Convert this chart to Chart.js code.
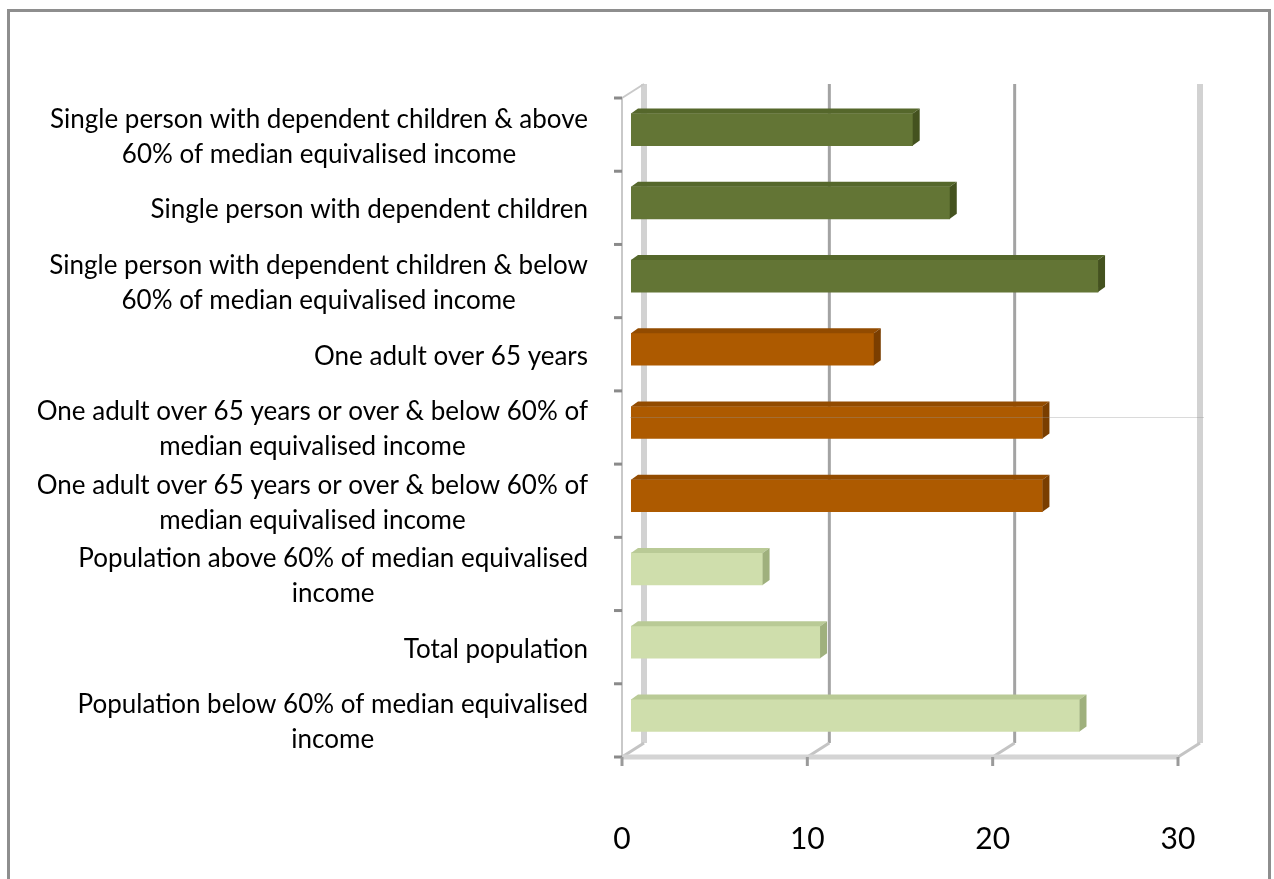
<!DOCTYPE html>
<html>
<head>
<meta charset="utf-8">
<script src="https://cdn.jsdelivr.net/npm/chart.js"></script>
<style>
  html, body { margin: 0; padding: 0; background: #fff; }
  #frame { position: absolute; left: 7px; top: 9px; width: 1258px; height: 900px; border: 3px solid #8e8e8e; }
  #myChart { position: absolute; left: 0; top: 0; }
</style>
</head>
<body>
<div id="frame"></div>
<canvas id="myChart" width="1274" height="879"></canvas>
<script>
// categories, top to bottom
const labels = [
    ['Single person with dependent children & above', '60% of median equivalised income'],
    ['Single person with dependent children'],
    ['Single person with dependent children & below', '60% of median equivalised income'],
    ['One adult over 65 years'],
    ['One adult over 65 years or over & below 60% of', 'median equivalised income'],
    ['One adult over 65 years or over & below 60% of', 'median equivalised income'],
    ['Population above 60% of median equivalised', 'income'],
    ['Total population'],
    ['Population below 60% of median equivalised', 'income']
];
const values = [15.2, 17.2, 25.2, 13.1, 22.2, 22.2, 7.1, 10.2, 24.2];
const groups = ['single', 'single', 'single', 'older', 'older', 'older', 'pop', 'pop', 'pop'];
const xTicks = [0, 10, 20, 30];

const faceColor = { single: '#637535', older: '#ad5a00', pop: '#cfdeac' };
const sideColor = { single: '#44521f', older: '#7a3e00', pop: '#9fb07d' };
const topColor = { single: '#55672b', older: '#924b00', pop: '#b9ca96' };

const DX = 22, DY = -14;        // depth of the walls
const BX = 9, BY = -5;          // bars sit halfway back
const SD = 7, SDY = 5;          // bar side face
const labelFont = '26px Lato';

function line(ctx, x1, y1, x2, y2, color, w) {
    ctx.beginPath();
    ctx.moveTo(x1, y1);
    ctx.lineTo(x2, y2);
    ctx.strokeStyle = color;
    ctx.lineWidth = w;
    ctx.stroke();
}

const walls = {
    id: 'walls',
    beforeDatasetsDraw(chart) {
        const { ctx, chartArea: a, scales: { x } } = chart;
        ctx.save();
        ctx.lineCap = 'butt';
        // back wall grid lines
        xTicks.forEach(v => {
            const px = x.getPixelForValue(v) + DX;
            const edge = v === 0 || v === 30;
            line(ctx, px, a.top + DY, px, a.bottom + DY, edge ? '#d2d2d2' : '#a3a3a3', edge ? 6 : 3);
        });
        // floor depth lines
        xTicks.forEach(v => {
            const px = x.getPixelForValue(v);
            line(ctx, px, a.bottom, px + DX, a.bottom + DY, '#c4c4c4', 3);
        });
        // floor front edge
        line(ctx, a.left, a.bottom, a.right, a.bottom, '#d4d4d4', 5);
        // left wall front edge and top
        line(ctx, a.left, a.top, a.left, a.bottom, '#c9c9c9', 2);
        line(ctx, a.left, a.top, a.left + DX, a.top + DY, '#c9c9c9', 2);
        // category tick marks
        const step = (a.bottom - a.top) / labels.length;
        for (let i = 0; i <= labels.length; i++) {
            const py = a.top + i * step;
            line(ctx, a.left - 8, py, a.left, py, '#8a8a8a', 3);
        }
        // value tick marks
        xTicks.forEach(v => {
            const px = x.getPixelForValue(v);
            line(ctx, px, a.bottom, px, a.bottom + 9, '#9a9a9a', 3);
        });
        ctx.restore();

        ctx.save();
        ctx.translate(BX, BY);
    },
    afterDatasetsDraw(chart) {
        const { ctx, chartArea: a, scales: { y } } = chart;
        ctx.restore();
        const meta = chart.getDatasetMeta(0);
        ctx.save();
        meta.data.forEach((bar, i) => {
            const g = groups[i];
            const xl = bar.base + BX, xr = bar.x + BX;
            const top = bar.y - bar.height / 2 + BY, bot = bar.y + bar.height / 2 + BY;
            // top face
            ctx.beginPath();
            ctx.moveTo(xl, top);
            ctx.lineTo(xl + SD, top - SDY);
            ctx.lineTo(xr + SD, top - SDY);
            ctx.lineTo(xr, top);
            ctx.closePath();
            ctx.fillStyle = topColor[g];
            ctx.fill();
            // right face
            ctx.beginPath();
            ctx.moveTo(xr, top);
            ctx.lineTo(xr + SD, top - SDY);
            ctx.lineTo(xr + SD, bot - SDY);
            ctx.lineTo(xr, bot);
            ctx.closePath();
            ctx.fillStyle = sideColor[g];
            ctx.fill();
        });
        // faint stray line seen in the original
        const sy = y.getPixelForValue(4) - 10;
        line(ctx, a.left + 8, sy, a.right + DX + 4, sy, 'rgba(150,150,150,0.35)', 1);
        ctx.restore();
    },
    afterDraw(chart) {
        const { ctx, scales: { y } } = chart;
        ctx.save();
        ctx.font = labelFont;
        ctx.fillStyle = '#000';
        ctx.textAlign = 'center';
        ctx.textBaseline = 'middle';
        const right = 588, lh = 35;
        labels.forEach((lines, i) => {
            const w = Math.max(...lines.map(s => ctx.measureText(s).width));
            const cx = right - w / 2;
            const cy = y.getPixelForValue(i) + 2;
            lines.forEach((s, j) => {
                ctx.fillText(s, cx, cy + (j - (lines.length - 1) / 2) * lh);
            });
        });
        ctx.restore();
    }
};

const ctx = document.getElementById('myChart').getContext('2d');
const myChart = new Chart(ctx, {
    type: 'bar',
    data: {
        labels: labels,
        datasets: [{
            data: values,
            backgroundColor: groups.map(g => faceColor[g]),
            borderWidth: 0,
            barThickness: 32
        }]
    },
    options: {
        indexAxis: 'y',
        responsive: false,
        animation: false,
        layout: { padding: { top: 98, right: 96, left: 0, bottom: 0 } },
        plugins: {
            legend: { display: false },
            tooltip: { enabled: false }
        },
        scales: {
            x: {
                min: 0,
                max: 30,
                afterBuildTicks: s => { s.ticks = xTicks.map(v => ({ value: v })); },
                afterFit: s => { s.height = 122; },
                ticks: { font: { family: 'Lato', size: 30 }, color: '#000', padding: 56 },
                grid: { display: false },
                border: { display: false }
            },
            y: {
                afterFit: s => { s.width = 622; },
                ticks: { display: false },
                grid: { display: false },
                border: { display: false }
            }
        }
    },
    plugins: [walls]
});
</script>
</body>
</html>
